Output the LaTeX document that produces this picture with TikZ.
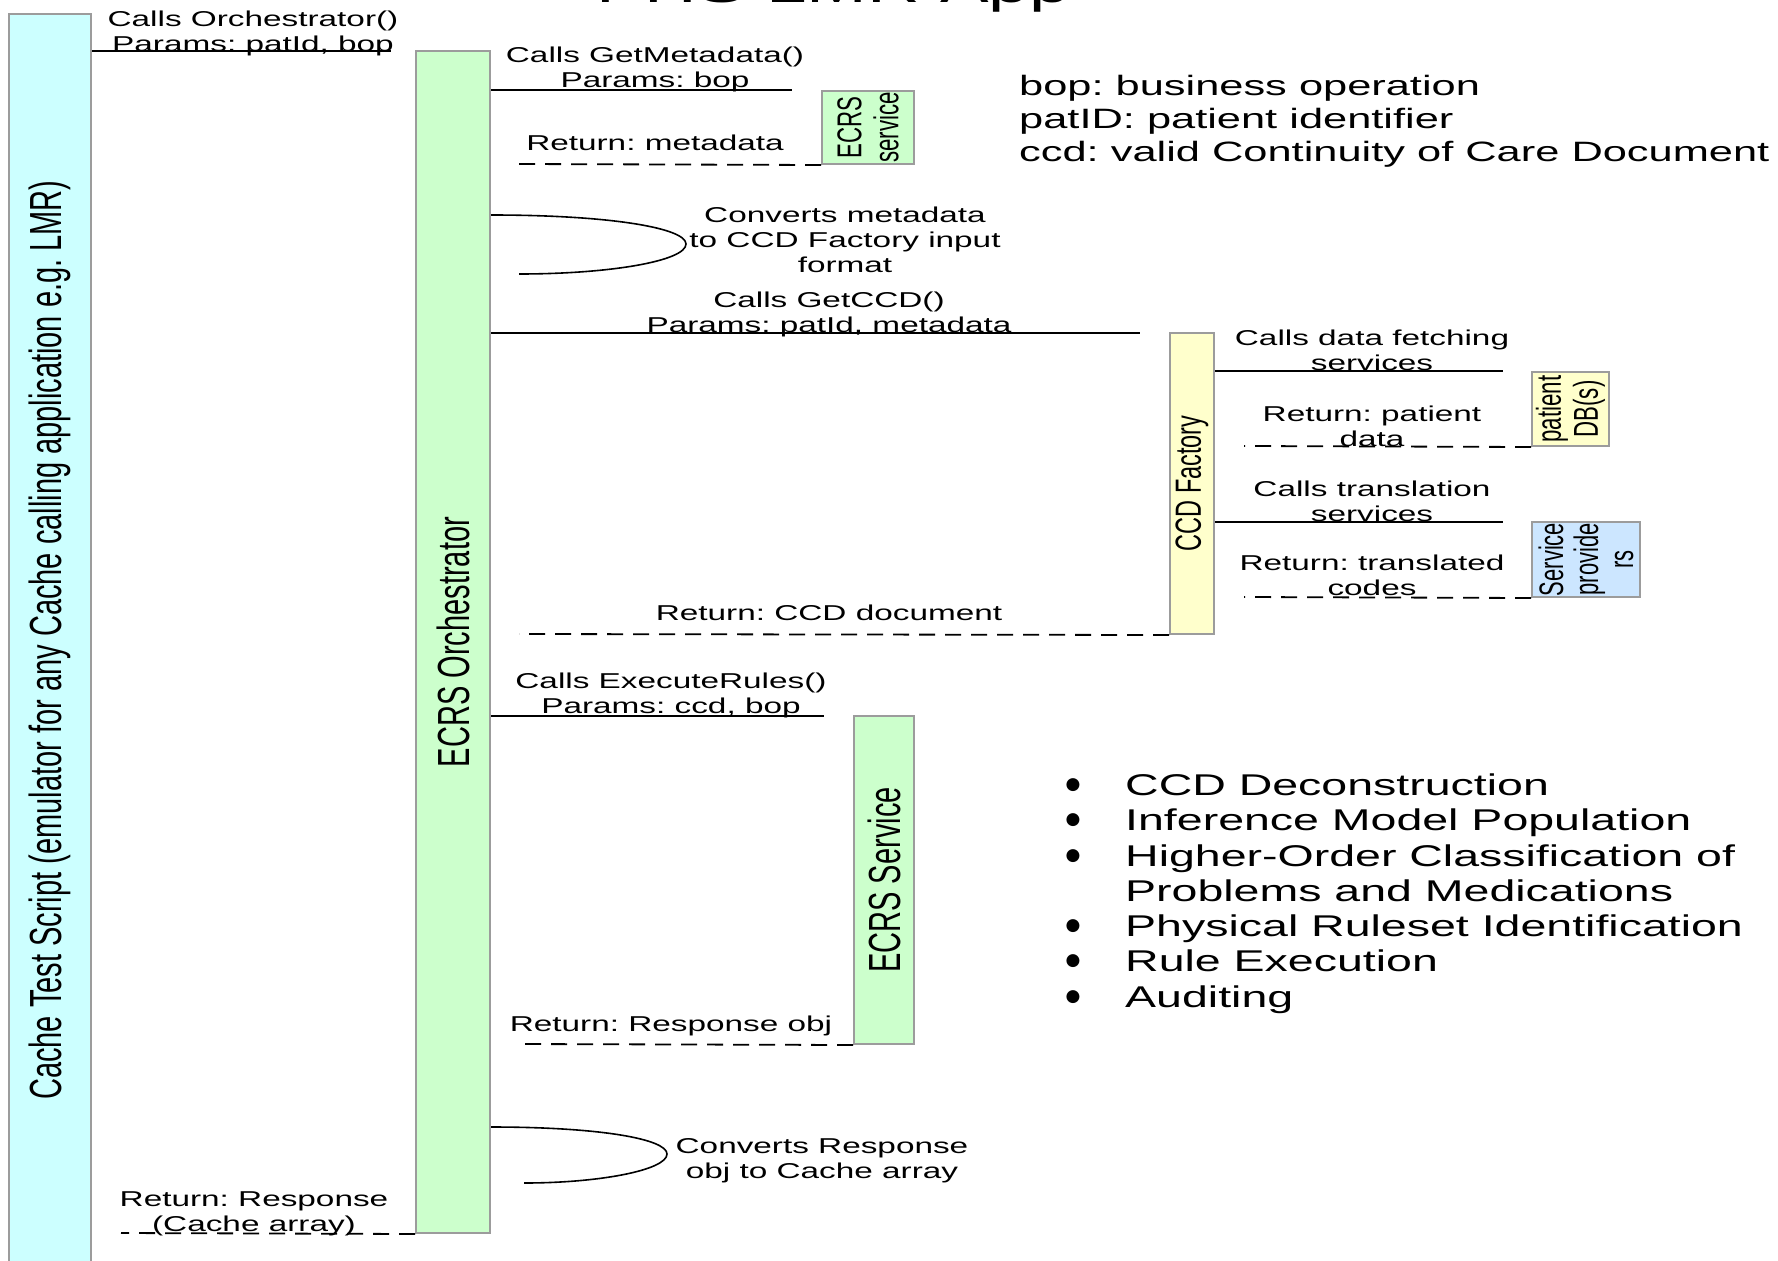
\documentclass[tikz,border=0pt]{standalone}
\usepackage{fontspec}
\setmainfont{Liberation Sans}
\newfontfamily\widefont{Liberation Sans}[FakeStretch=1.55]
\newfontfamily\condfont{Liberation Sans}[FakeStretch=0.645]
\newfontfamily\dotfont{DejaVu Sans}
\frenchspacing
\definecolor{boxgray}{HTML}{9C9C9C}
\definecolor{cachecol}{HTML}{CCFFFF}
\definecolor{greencol}{HTML}{CCFFCC}
\definecolor{yellowcol}{HTML}{FFFFCC}
\definecolor{bluecol}{HTML}{CCE6FF}
\tikzset{
  lifebox/.style={draw=boxgray, line width=2pt, rectangle, inner sep=0pt},
  msg/.style={line width=1.6pt, black},
  ret/.style={line width=1.8pt, black, dash pattern=on 16pt off 10pt},
  lbl/.style={font=\widefont\fontsize{21.5}{25}\selectfont\frenchspacing, align=center, inner sep=0pt},
  vlbl/.style={rotate=90, align=center, inner sep=0pt},
  bigv/.style={vlbl, font=\condfont\fontsize{45}{52}\selectfont},
  smallv/.style={vlbl, font=\condfont\fontsize{34.5}{37}\selectfont},
  btxt/.style={anchor=base west, inner sep=0pt, font=\widefont\fontsize{30}{35}\selectfont},
  bdot/.style={anchor=center, inner sep=0pt, font=\dotfont\fontsize{17}{20}\selectfont},
}
\begin{document}
\begin{tikzpicture}[x=1pt,y=-1pt]
\useasboundingbox[fill=white] (0,0) rectangle (1778,1261);

% title (cut off at top)
\node[anchor=base, inner sep=0pt, font=\widefont\fontsize{47}{50}\selectfont] (title) at (833,2) {PHS LMR App};

% lifelines
\node[lifebox, fill=cachecol, minimum width=82pt, minimum height=1252pt] (cache) at (50,640) {};
\node[bigv] (cachetxt) at (cache.center) {Cache Test Script (emulator for any Cache calling application e.g. LMR)};

\node[lifebox, fill=greencol, minimum width=74pt, minimum height=1182pt] (orch) at (453,642) {};
\node[bigv] (orchtxt) at (orch.center) {ECRS Orchestrator};

\node[lifebox, fill=greencol, minimum width=92pt, minimum height=73pt] (ecrs1) at (868,127.5) {};
\node[smallv] (ecrs1txt) at (ecrs1.center) {ECRS\\service};

\node[lifebox, fill=yellowcol, minimum width=44pt, minimum height=301pt] (ccd) at (1192,483.5) {};
\node[vlbl, font=\condfont\fontsize{36.4}{40}\selectfont] (ccdtxt) at (ccd.center) {CCD Factory};

\node[lifebox, fill=yellowcol, minimum width=77pt, minimum height=74pt] (pdb) at (1570.5,409) {};
\node[smallv] (pdbtxt) at (pdb.center) {patient\\DB(s)};

\node[lifebox, fill=bluecol, minimum width=108pt, minimum height=75pt] (sp) at (1586,559.5) {};
\node[vlbl, font=\condfont\fontsize{34}{35}\selectfont] (sptxt) at (sp.center) {Service\\provide\\rs};

\node[lifebox, fill=greencol, minimum width=60pt, minimum height=328pt] (ecrs2) at (884,880) {};
\node[bigv] (ecrs2txt) at (ecrs2.center) {ECRS Service};

% free ends
\coordinate (m1e) at (391,51);
\coordinate (m2e) at (792,90);
\coordinate (r1e) at (519,164);
\coordinate (c1s) at (490,215);
\coordinate (c1e) at (519,274);
\coordinate (m3e) at (1140,333);
\coordinate (m4e) at (1503,371);
\coordinate (r2e) at (1244,446);
\coordinate (m5e) at (1503,522);
\coordinate (r3e) at (1244,597);
\coordinate (r4e) at (519,634);
\coordinate (m6e) at (824,716);
\coordinate (r5e) at (519,1044);
\coordinate (c2s) at (490,1127);
\coordinate (c2e) at (524,1183);
\coordinate (r6e) at (121,1233);

% connectors
\draw[msg] (cache.east |- m1e) -- (m1e);
\draw[msg] (orch.east |- m2e) -- (m2e);
\draw[ret] (ecrs1.south west) -- (r1e);
\draw[msg] (orch.east |- c1s) .. controls (610,215) and (686,228) .. (686,244)
           .. controls (686,261) and (610,274) .. (c1e);
\draw[msg] (orch.east |- m3e) -- (m3e);
\draw[msg] (ccd.east |- m4e) -- (m4e);
\draw[ret] (pdb.south west) -- (r2e);
\draw[msg] (ccd.east |- m5e) -- (m5e);
\draw[ret] (sp.south west) -- (r3e);
\draw[ret] (ccd.south west) -- (r4e);
\draw[msg] (orch.east |- m6e) -- (m6e);
\draw[ret] (ecrs2.south west) -- (r5e);
\draw[msg] (orch.east |- c2s) .. controls (600,1127) and (667,1139) .. (667,1154)
           .. controls (667,1170) and (600,1183) .. (c2e);
\draw[ret] (orch.south west) -- (r6e);

% labels
\node[lbl] (l1) at (253,33.5) {Calls Orchestrator()\\Params: patId, bop};
\node[lbl] (l2) at (655,69.5) {Calls GetMetadata()\\Params: bop};
\node[lbl] (l3) at (655,143) {Return: metadata};
\node[lbl] (l4) at (845,239.5) {Converts metadata\\to CCD Factory input\\format};
\node[lbl] (l5) at (829,314.5) {Calls GetCCD()\\Params: patId, metadata};
\node[lbl] (l6) at (1372,350) {Calls data fetching\\services};
\node[lbl] (l7) at (1372,426) {Return: patient\\data};
\node[lbl] (l8) at (1372,501) {Calls translation\\services};
\node[lbl] (l9) at (1372,575) {Return: translated\\codes};
\node[lbl] (l10) at (829,613) {Return: CCD document};
\node[lbl] (l11) at (671,695.5) {Calls ExecuteRules()\\Params: ccd, bop};
\node[lbl] (l12) at (671,1026) {Return: Response obj};
\node[lbl] (l13) at (822,1160.5) {Converts Response\\obj to Cache array};
\node[lbl] (l14) at (254,1213.5) {Return: Response\\(Cache array)};

% legend
\node[anchor=west, align=left, inner sep=0pt, font=\widefont\fontsize{28}{33}\selectfont] (legend) at (1019,121.5)
  {bop: business operation\\patID: patient identifier\\ccd: valid Continuity of Care Document};

% bullet list
\node[bdot] (d1) at (1073,785) {●};
\node[btxt] (b1) at (1125,795) {CCD Deconstruction};
\node[bdot] (d2) at (1073,820) {●};
\node[btxt] (b2) at (1125,830) {Inference Model Population};
\node[bdot] (d3) at (1073,856) {●};
\node[btxt] (b3) at (1125,866) {Higher-Order Classification of};
\node[btxt] (b3b) at (1125,901) {Problems and Medications};
\node[bdot] (d5) at (1073,926) {●};
\node[btxt] (b5) at (1125,936) {Physical Ruleset Identification};
\node[bdot] (d6) at (1073,961) {●};
\node[btxt] (b6) at (1125,971) {Rule Execution};
\node[bdot] (d7) at (1073,997) {●};
\node[btxt] (b7) at (1125,1007) {Auditing};
\end{tikzpicture}
\end{document}
